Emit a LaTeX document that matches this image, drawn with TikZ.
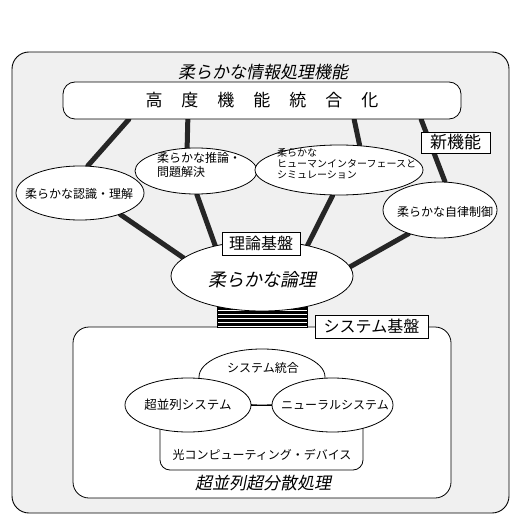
\documentclass[tikz,border=0pt]{standalone}
\usepackage{fontspec}
\setmainfont{Noto Sans CJK JP}
\newfontfamily\itfont{Noto Sans CJK JP}[FakeSlant=0.2]
\usetikzlibrary{shapes.geometric,calc}
\pgfdeclarelayer{back}
\pgfdeclarelayer{bg}
\pgfsetlayers{back,bg,main}
\begin{document}
\begin{tikzpicture}[x=1pt,y=-1pt,
  fs/.style={font=\fontsize{#1}{#1}\selectfont},
  itf/.style={font=\itfont\fontsize{#1}{#1}\selectfont},
  ell/.style={draw, fill=white, ellipse, inner sep=0pt, line width=0.8pt},
  lbl/.style={draw, fill=white, rectangle, inner sep=0pt, line width=0.8pt},
  thickln/.style={line width=5pt, line cap=round, black!85},
  thin/.style={line width=0.8pt},
  txt/.style={inner sep=0pt}
]
\useasboundingbox (0,0) rectangle (520,521);

% outer frame
\begin{pgfonlayer}{back}
\node[draw, fill=black!6, rounded corners=17pt, minimum width=497pt, minimum height=461pt, line width=0.9pt, inner sep=0pt] (outer) at (260.5,282.5) {};
\end{pgfonlayer}

\node[txt, itf=17] (title) at (263,72) {柔らかな情報処理機能};

% top box
\node[draw, fill=white, rounded corners=12pt, minimum width=398pt, minimum height=37pt, thin, inner sep=0pt, fs=17] (top) at (262,100.5)
  {高\hspace{19pt}度\hspace{19pt}機\hspace{19pt}能\hspace{19pt}統\hspace{19pt}合\hspace{19pt}化};

% system frame
\node[draw, fill=white, rounded corners=16pt, minimum width=378pt, minimum height=171pt, thin, inner sep=0pt] (sys) at (262,412.5) {};

% striped bridge
\node[draw, fill=white, minimum width=90pt, minimum height=24pt, inner sep=0pt, thin,
  path picture={\foreach \k in {2.5,6.5,10.5,14.5,18.5}
    \draw[line width=2.2pt] ([yshift=\k pt]path picture bounding box.south west) -- ([yshift=\k pt]path picture bounding box.south east);}] (bridge) at (262,315) {};

% ellipses
\node[ell, minimum width=128pt, minimum height=54pt] (rec) at (80,193) {};
\node[ell, minimum width=122pt, minimum height=46pt] (inf) at (196,171) {};
\node[ell, minimum width=168pt, minimum height=50pt] (hmi) at (339,170) {};
\node[ell, minimum width=114pt, minimum height=56pt] (aut) at (440,210) {};
\node[ell, minimum width=182pt, minimum height=70pt] (logic) at (262,276) {};

\node[txt, fs=12] (rect) at (79,194) {柔らかな認識・理解};
\node[txt, anchor=west, align=left, font=\fontsize{12}{14}\selectfont] (inft) at (157,165) {柔らかな推論・\\問題解決};
\node[txt, anchor=west, align=left, font=\fontsize{10}{11}\selectfont] (hmit) at (277,164) {柔らかな\\ヒューマンインターフェースと\\シミュレーション};
\node[txt, fs=12] (autt) at (445,212) {柔らかな自律制御};
\node[txt, itf=18] (logict) at (262,280) {柔らかな論理};

% labels
\node[lbl, minimum width=78pt, minimum height=23pt, fs=16] (kiban) at (261,243.5) {理論基盤};
\node[lbl, minimum width=69pt, minimum height=21pt, fs=17] (shin) at (455.5,142.5) {新機能};
\node[lbl, minimum width=113pt, minimum height=23pt, fs=16] (sysk) at (371.5,326.5) {システム基盤};

% system contents
\node[ell, minimum width=126pt, minimum height=56pt] (togo) at (262,377) {};
\node[txt, fs=12] (togot) at (263,368) {システム統合};
\draw[thin, rounded corners=10pt] (160,415) -- (160,470) -- (363,470) -- (363,415);
\node[txt, fs=12] (hikari) at (262,455) {光コンピューティング・デバイス};
\node[ell, minimum width=126pt, minimum height=54pt] (sp) at (188,405) {};
\node[ell, minimum width=121pt, minimum height=54pt] (nn) at (332.5,405) {};
\draw[thin] (sp.east) -- (nn.west);
\node[txt, fs=12.5] (spt) at (188,405) {超並列システム};
\node[txt, fs=12] (nnt) at (335,405) {ニューラルシステム};
\node[txt, itf=17] (chou) at (263,483) {超並列超分散処理};

% thick connectors
\begin{pgfonlayer}{bg}
\draw[thickln] ($(top.south west)!0.166!(top.south east)$) -- (rec.74);
\draw[thickln] ($(top.south west)!0.314!(top.south east)$) -- (inf.111);
\draw[thickln] ($(top.south west)!0.731!(top.south east)$) -- (hmi.50);
\draw[thickln] ($(top.south west)!0.899!(top.south east)$) -- (aut.80);
\draw[thickln] (rec.-28) -- (logic.167);
\draw[thickln] (inf.-88) -- (logic.147);
\draw[thickln] (hmi.-104) -- (logic.34);
\draw[thickln] (aut.217) -- (logic.6);
\end{pgfonlayer}
\end{tikzpicture}
\end{document}
